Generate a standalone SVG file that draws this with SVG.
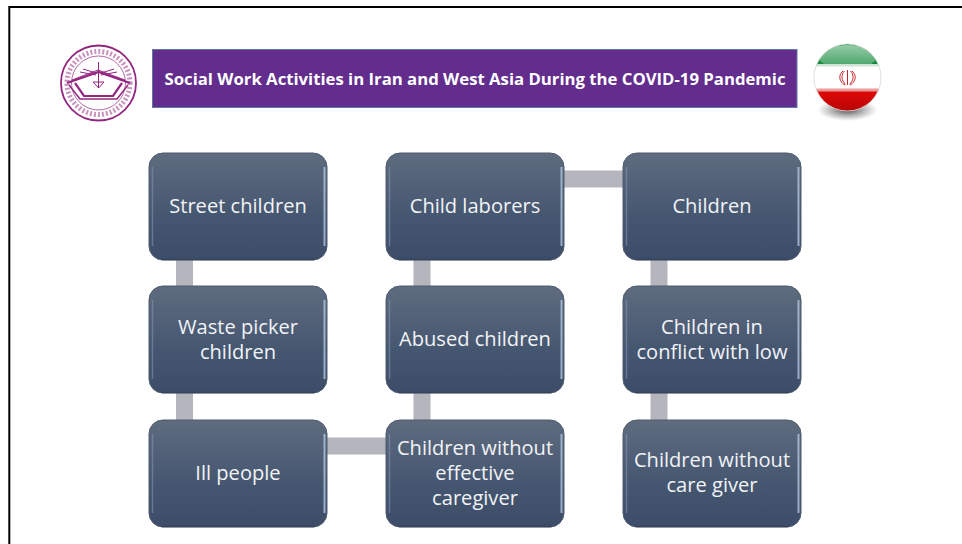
<svg xmlns="http://www.w3.org/2000/svg" width="962" height="544" viewBox="0 0 962 544">
<style>
.t{font-family:"Open Sans","Noto Sans","Liberation Sans",sans-serif;font-size:20.100px;fill:#f1f3f6;text-anchor:middle}
.box{fill:url(#nodeFill);stroke:#4f5c70;stroke-width:1}
.sl{fill:none;stroke:#8397b2;stroke-width:1.500;opacity:.55}
.sr{fill:none;stroke:#b3c5dc;stroke-width:2;opacity:.8}
.bot{fill:none;stroke:#2f3d55;stroke-width:1.500;opacity:.7}
.c{fill:#b5b6bd}
.lp{fill:none;stroke:#93277f}
</style>
<defs>
<linearGradient id="nodeFill" x1="0" y1="0" x2="0" y2="1"><stop offset="0" stop-color="#5f6c7f"/><stop offset=".6" stop-color="#455670"/><stop offset="1" stop-color="#3d4d69"/></linearGradient>
<linearGradient id="gloss" x1="0" y1="0" x2="0" y2="1"><stop offset="0" stop-color="#fff" stop-opacity=".55"/><stop offset="1" stop-color="#fff" stop-opacity=".2"/></linearGradient>
<linearGradient id="red" x1="0" y1="0" x2="0" y2="1"><stop offset="0" stop-color="#e30808"/><stop offset="1" stop-color="#b30505"/></linearGradient>
<radialGradient id="shadow"><stop offset="0" stop-color="#222" stop-opacity=".8"/><stop offset="1" stop-color="#555" stop-opacity="0"/></radialGradient>
<clipPath id="ball"><circle cx="847.500" cy="77.500" r="33.500"/></clipPath>
<g id="n"><rect class="box" width="178" height="107" rx="14"/><path class="sl" d="M3.500 14V93"/><path class="sr" d="M175.500 14V93"/><path class="bot" d="M12 106.500H166"/></g>
</defs>
<rect width="962" height="544" fill="#fff"/>
<path d="M9.300 544V7H962" fill="none" stroke="#000" stroke-width="2"/>
<g id="logo">
<circle class="lp" cx="98.500" cy="83" r="37.500" stroke-width="1.800"/>
<circle class="lp" cx="98.500" cy="83" r="27" stroke-width=".7"/>
<circle class="lp" cx="98.500" cy="83" r="31.500" stroke-width="5" stroke-dasharray="2 2" opacity=".5"/>
<path class="lp" stroke-width="2.200" d="M67 83L98.500 72L130 83M75 83L84 96H113L122 83"/>
<path class="lp" stroke-width="1" d="M72 80L98 70L125 80M98.500 62V88M80 72L96 75M117 72L101 75M83 69L96 73M114 69L101 73M93 82H104L98.500 88Z"/>
<path class="lp" stroke-width="1.500" d="M69 85L80 99H117L128 85"/>
</g>
<g id="title">
<rect x="152.500" y="49.500" width="644.500" height="58" fill="#622d8d" stroke="#5b7a9e"/>
<text x="475" y="85" style="font-family:'Open Sans','Noto Sans',sans-serif;font-size:16.500px;font-weight:700;text-anchor:middle;fill:#fff" textLength="621" lengthAdjust="spacingAndGlyphs">Social Work Activities in Iran and West Asia During the COVID-19 Pandemic</text>
</g>
<g id="flag">
<ellipse cx="847.500" cy="110" rx="30" ry="11" fill="url(#shadow)"/>
<circle cx="847.500" cy="77.500" r="33.500" fill="#fff"/>
<g clip-path="url(#ball)">
<rect x="810" y="44" width="76" height="22" fill="#128a3a"/>
<ellipse cx="847.500" cy="57" rx="29" ry="12" fill="url(#gloss)"/>
<rect x="810" y="90" width="76" height="23" fill="url(#red)"/>
<rect x="810" y="64" width="76" height="2.500" fill="#cfe4d5"/>
<rect x="810" y="88.500" width="76" height="3" fill="#e99a9a"/>
</g>
<circle cx="847.500" cy="77.500" r="33.500" fill="none" stroke="#d8d8d8" stroke-width=".8"/>
<path d="M847.500 70V85M844.500 71C841 74 841 81 845.500 84M850.500 71C854 74 854 81 849.500 84M843 71C838 75 839 82 845 85M852 71C857 75 856 82 850 85" fill="none" stroke="#c8262a" stroke-width="1"/>
</g>
<g id="connectors">
<rect class="c" x="176" y="258" width="17" height="30"/><rect class="c" x="176" y="391" width="17" height="31"/>
<rect class="c" x="413.500" y="258" width="17" height="30"/><rect class="c" x="413.500" y="391" width="17" height="31"/>
<rect class="c" x="650.500" y="258" width="17" height="30"/><rect class="c" x="650.500" y="391" width="17" height="31"/>
<rect class="c" x="325" y="437.500" width="63" height="17"/><rect class="c" x="562" y="170.500" width="63" height="17"/>
</g>
<g id="node-street" transform="translate(149 153)"><use href="#n"/><text class="t" x="89" y="60">Street children</text></g>
<g id="node-waste" transform="translate(149 286)"><use href="#n"/><text class="t" x="89" y="48">Waste picker</text><text class="t" x="89" y="73">children</text></g>
<g id="node-ill" transform="translate(149 420)"><use href="#n"/><text class="t" x="89" y="60">Ill people</text></g>
<g id="node-laborers" transform="translate(386 153)"><use href="#n"/><text class="t" x="89" y="60">Child laborers</text></g>
<g id="node-abused" transform="translate(386 286)"><use href="#n"/><text class="t" x="89" y="60">Abused children</text></g>
<g id="node-effective" transform="translate(386 420)"><use href="#n"/><text class="t" x="89" y="35">Children without</text><text class="t" x="89" y="60">effective</text><text class="t" x="89" y="85">caregiver</text></g>
<g id="node-children" transform="translate(623 153)"><use href="#n"/><text class="t" x="89" y="60">Children</text></g>
<g id="node-conflict" transform="translate(623 286)"><use href="#n"/><text class="t" x="89" y="48">Children in</text><text class="t" x="89" y="73">conflict with low</text></g>
<g id="node-nocare" transform="translate(623 420)"><use href="#n"/><text class="t" x="89" y="47">Children without</text><text class="t" x="89" y="72">care giver</text></g>
</svg>
